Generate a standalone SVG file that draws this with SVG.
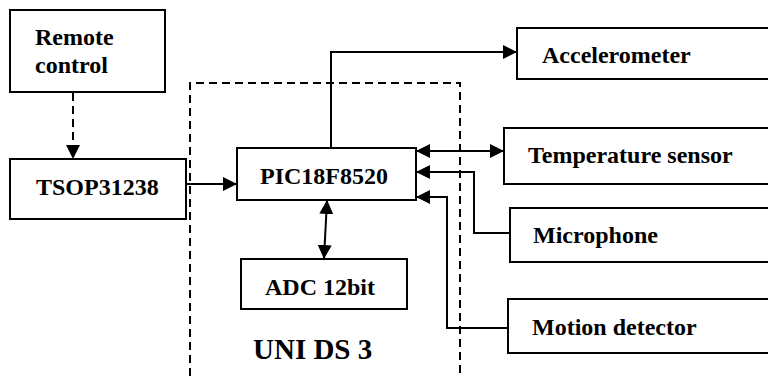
<svg xmlns="http://www.w3.org/2000/svg" width="768" height="376" viewBox="0 0 768 376">
<style>
.box{fill:#fff;stroke:#000;stroke-width:2}
.t{font-family:"Liberation Serif","Times New Roman",serif;font-weight:bold;font-size:24px;fill:#000}
.c{fill:none;stroke:#000;stroke-width:2}
.d{fill:none;stroke:#000;stroke-width:2;stroke-dasharray:8 5}
</style>
<defs>
<marker id="ah" markerUnits="userSpaceOnUse" markerWidth="14" markerHeight="14" viewBox="0 0 14 14" refX="13" refY="7" orient="auto-start-reverse">
<path d="M0,0 L14,7 L0,14 z" fill="#000"/>
</marker>
</defs>
<g id="uni-ds3">
<path class="d" d="M190,376 V83 H460 V376"/>
<text class="t" x="253" y="359" style="font-size:29px">UNI DS 3</text>
</g>
<g id="remote">
<rect class="box" x="10" y="10" width="155" height="82"/>
<text class="t" x="35" y="45">Remote</text>
<text class="t" x="35" y="73">control</text>
</g>
<g id="tsop">
<rect class="box" x="10" y="159" width="176" height="60"/>
<text class="t" x="36" y="195">TSOP31238</text>
</g>
<g id="pic">
<rect class="box" x="237" y="148" width="179" height="52"/>
<text class="t" x="260" y="184">PIC18F8520</text>
</g>
<g id="adc">
<rect class="box" x="241" y="259" width="166" height="50"/>
<text class="t" x="265" y="295">ADC 12bit</text>
</g>
<g id="accelerometer">
<rect class="box" x="517" y="28" width="260" height="51"/>
<text class="t" x="542" y="63">Accelerometer</text>
</g>
<g id="temperature">
<rect class="box" x="504" y="128" width="270" height="56"/>
<text class="t" x="528" y="163">Temperature sensor</text>
</g>
<g id="microphone">
<rect class="box" x="510" y="208" width="265" height="54"/>
<text class="t" x="533" y="243">Microphone</text>
</g>
<g id="motion">
<rect class="box" x="508" y="299" width="265" height="54"/>
<text class="t" x="532" y="335">Motion detector</text>
</g>
<g id="connectors">
<path class="d" d="M73,93 V158" marker-end="url(#ah)"/>
<path class="c" d="M187,184 H236" marker-end="url(#ah)"/>
<path class="c" d="M331,148 V52 H516" marker-end="url(#ah)"/>
<path class="c" d="M327,201 L324,258" marker-start="url(#ah)" marker-end="url(#ah)"/>
<path class="c" d="M417,151 H503" marker-start="url(#ah)" marker-end="url(#ah)"/>
<path class="c" d="M510,233 H474 V172 H417" marker-end="url(#ah)"/>
<path class="c" d="M508,328 H447 V197 H417" marker-end="url(#ah)"/>
</g>
</svg>
